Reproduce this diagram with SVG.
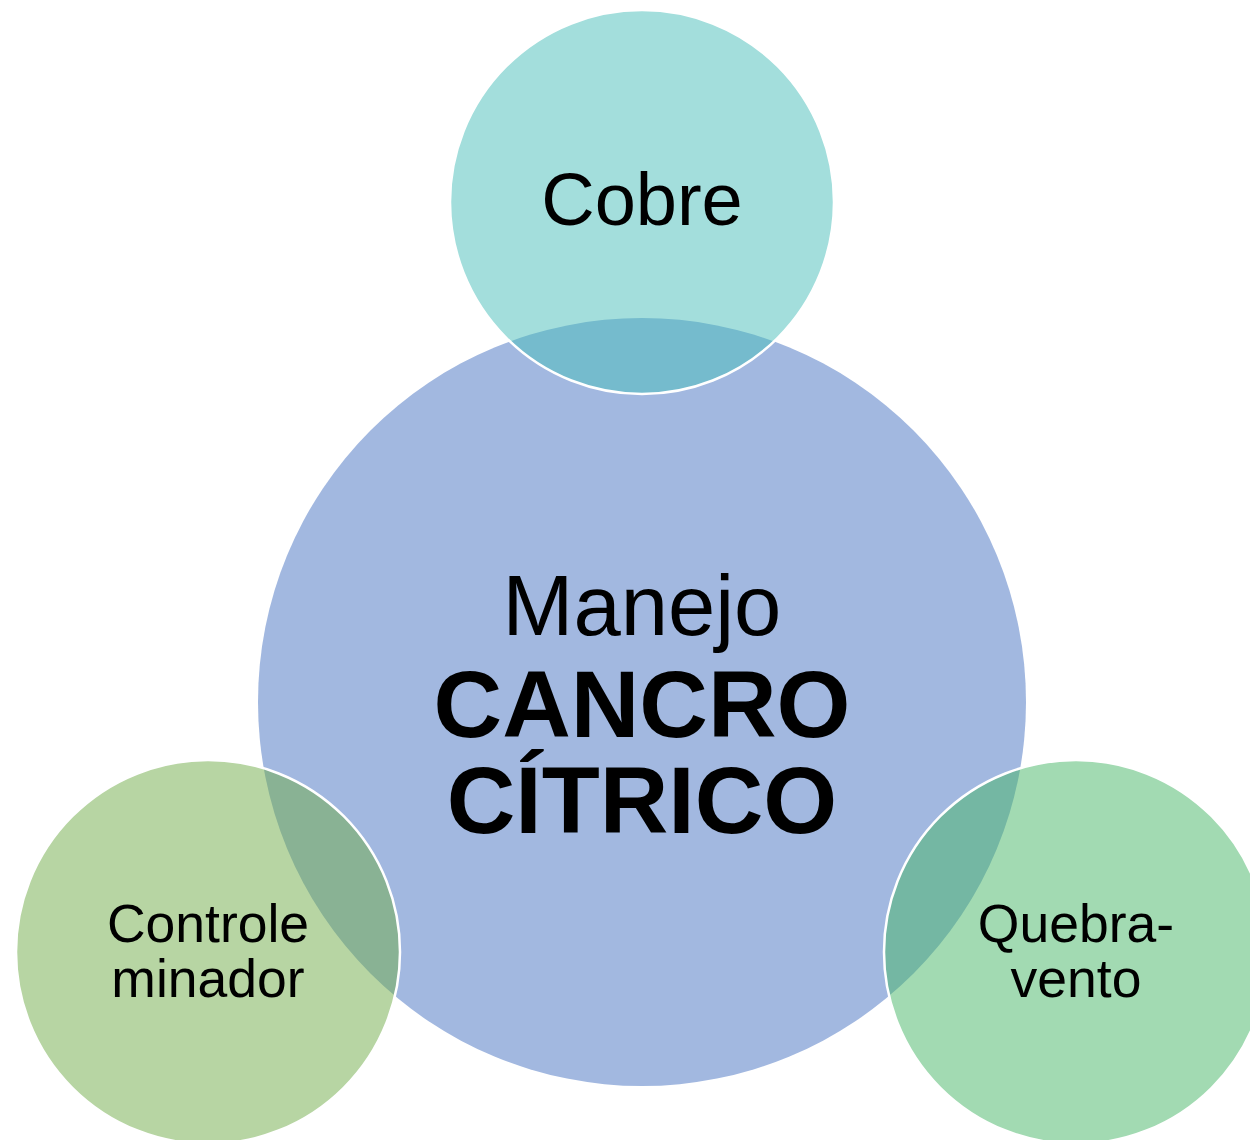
<svg xmlns="http://www.w3.org/2000/svg" width="1250" height="1140" viewBox="0 0 1250 1140">
<style>
.small{stroke:#ffffff;stroke-width:2.5;fill-opacity:0.5}
text{font-family:"Liberation Sans",Arial,sans-serif;fill:#000;text-anchor:middle}
.lab{font-size:53.5px}
</style>
<rect width="1250" height="1140" fill="#ffffff"/>
<g id="center">
<circle cx="642" cy="702" r="384" fill="#A2B8E0"/>
<text x="642" y="635" font-size="85">Manejo</text>
<text x="642" y="737" font-size="95" font-weight="bold">CANCRO</text>
<text x="642" y="833" font-size="95" font-weight="bold">CÍTRICO</text>
</g>
<g id="cobre">
<circle class="small" cx="642" cy="202" r="192" fill="rgb(71,189,185)"/>
<text x="642" y="225" font-size="74">Cobre</text>
</g>
<g id="controle">
<circle class="small" cx="208" cy="952" r="192" fill="rgb(111,171,71)"/>
<text class="lab" x="208" y="942">Controle</text>
<text class="lab" x="208" y="997">minador</text>
</g>
<g id="quebra">
<circle class="small" cx="1076" cy="952" r="192" fill="rgb(69,181,101)"/>
<text class="lab" x="1076" y="942">Quebra-</text>
<text class="lab" x="1076" y="997">vento</text>
</g>
<g id="connectors"></g>
</svg>
